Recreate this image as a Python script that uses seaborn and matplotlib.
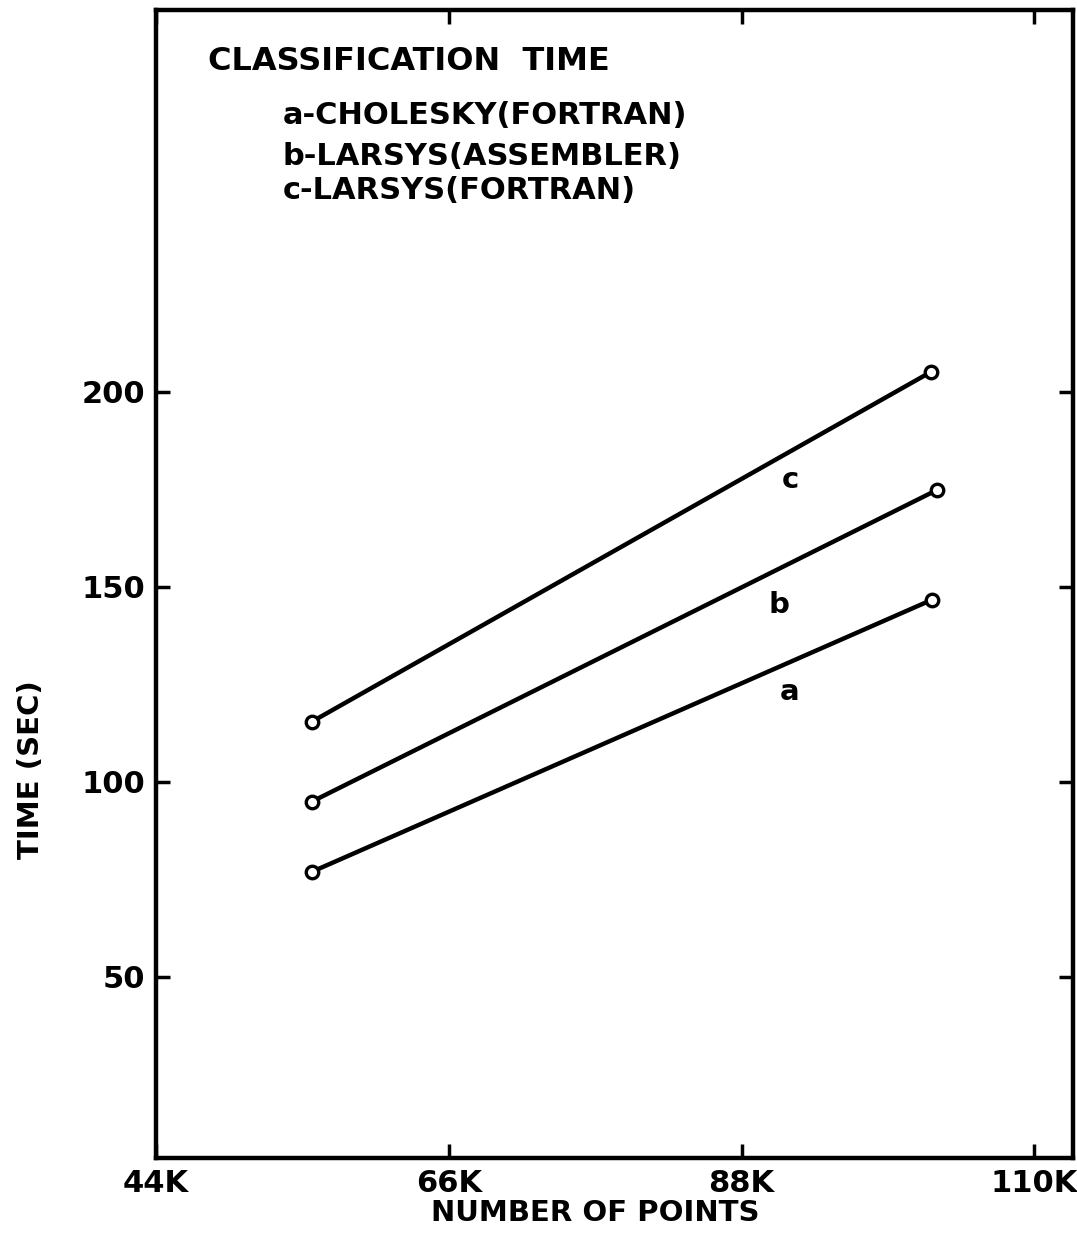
import pandas as pd
import matplotlib.pyplot as plt
import seaborn as sns

# values (x in thousands of points, y in seconds)
series = ["a", "b", "c"]
x_start = [55.7, 55.7, 55.7]
x_end = [102.3, 102.7, 102.2]
y_start = [76.9, 94.9, 115.4]
y_end = [146.7, 174.9, 205.1]

x_ticks = [44, 66, 88, 110]
x_tick_labels = ["44K", "66K", "88K", "110K"]
y_ticks = [50, 100, 150, 200]
legend_lines = ["a-CHOLESKY(FORTRAN)", "b-LARSYS(ASSEMBLER)", "c-LARSYS(FORTRAN)"]

# long table for seaborn
rows = []
for s, x0, x1, y0, y1 in zip(series, x_start, x_end, y_start, y_end):
    rows.append({"series": s, "points": x0, "time": y0})
    rows.append({"series": s, "points": x1, "time": y1})
df = pd.DataFrame(rows)

sns.set_style("ticks")
plt.rcParams["font.family"] = ["DejaVu Sans"]
plt.rcParams["font.weight"] = "bold"
for key in ["text.color", "axes.labelcolor", "xtick.color", "ytick.color", "axes.edgecolor"]:
    plt.rcParams[key] = "black"

fig = plt.figure(figsize=(10.77, 12.44), dpi=100)
ax = fig.add_axes([0.1448, 0.0691, 0.8515, 0.9229])

sns.lineplot(
    data=df, x="points", y="time", hue="series",
    palette={"a": "black", "b": "black", "c": "black"},
    marker="o", markersize=9, markerfacecolor="white",
    markeredgecolor="black", markeredgewidth=2.4,
    linewidth=3.2, legend=False, ax=ax
)

ax.set_xlim(44, 112.9)
ax.set_ylim(3.5, 298)
ax.set_xticks(x_ticks)
ax.set_xticklabels(x_tick_labels)
ax.set_yticks(y_ticks)

ax.tick_params(axis="both", direction="in", length=10, width=2.5,
               labelsize=22, top=True, right=True, pad=8)
for lab in ax.get_xticklabels() + ax.get_yticklabels():
    lab.set_fontweight("bold")
for sp in ax.spines.values():
    sp.set_linewidth(3.2)
    sp.set_color("black")

ax.set_xlabel("NUMBER OF POINTS", fontsize=21, fontweight="bold")
ax.set_ylabel("TIME (SEC)", fontsize=21, fontweight="bold")
ax.xaxis.set_label_coords(0.479, -0.036)
ax.yaxis.set_label_coords(-0.121, 0.338)

# curve labels
ax.text(91.7, 177.4, "c", fontsize=21, fontweight="bold", ha="center", va="center")
ax.text(90.8, 145.4, "b", fontsize=21, fontweight="bold", ha="center", va="center")
ax.text(91.6, 123.0, "a", fontsize=21, fontweight="bold", ha="center", va="center")

# key in the upper left
ax.text(0.057, 0.955, "CLASSIFICATION  TIME", transform=ax.transAxes,
        fontsize=23, fontweight="bold", ha="left", va="center")
for txt, yy in zip(legend_lines, [0.908, 0.872, 0.843]):
    ax.text(0.1385, yy, txt, transform=ax.transAxes,
            fontsize=22, fontweight="bold", ha="left", va="center")

fig.savefig("out.png", dpi=100)
